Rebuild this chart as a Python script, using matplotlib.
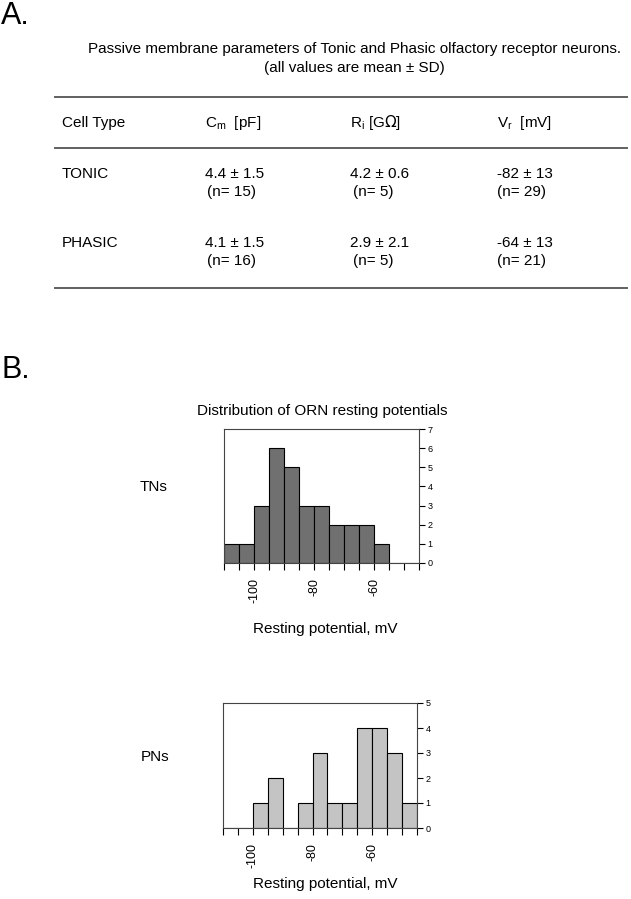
import numpy as np
import matplotlib.pyplot as plt

plt.rcParams['font.family'] = ['Liberation Sans', 'DejaVu Sans']

# Tabela A
cabecalho = ['Cell Type', 'C$_\\mathregular{m}$  [pF]', 'R$_\\mathregular{i}$ [G$\\Omega$]', 'V$_\\mathregular{r}$  [mV]']
tipos = ['TONIC', 'PHASIC']
cm_vals = ['4.4 ± 1.5', '4.1 ± 1.5']
cm_n = ['(n= 15)', '(n= 16)']
ri_vals = ['4.2 ± 0.6', '2.9 ± 2.1']
ri_n = ['(n= 5)', '(n= 5)']
vr_vals = ['-82 ± 13', '-64 ± 13']
vr_n = ['(n= 29)', '(n= 21)']

# Histogramas B (bins de 5 mV)
bordas = np.arange(-110, -44, 5)
contagem_tn = [1, 1, 3, 6, 5, 3, 3, 2, 2, 2, 1, 0, 0]
contagem_pn = [0, 0, 1, 2, 0, 1, 3, 1, 1, 4, 4, 3, 1]
rotulos_x = [-100, -80, -60]

W, H = 631, 899
fig = plt.figure(figsize=(W / 100, H / 100), dpi=100)


def px(x, y):
    return x / W, 1 - y / H


def texto(x, y, s, **kw):
    kw.setdefault('fontsize', 11)
    kw.setdefault('va', 'center')
    fig.text(*px(x, y), s, **kw)


def linha(y, x0=55, x1=627):
    fig.add_artist(plt.Line2D([x0 / W, x1 / W], [1 - y / H, 1 - y / H],
                              color='#606060', lw=1.4))


# Painel A
texto(1, 16, 'A.', fontsize=22)
texto(354, 49, 'Passive membrane parameters of Tonic and Phasic olfactory receptor neurons.', ha='center')
texto(354, 68, '(all values are mean ± SD)', ha='center')
linha(97)
linha(148)
linha(288)

col_x = [62, 205, 350, 497]
n_x = [207, 353, 497]
for x, s in zip(col_x, cabecalho):
    texto(x, 123, s)
for i, y in enumerate([174, 243]):
    texto(col_x[0], y, tipos[i])
    texto(col_x[1], y, cm_vals[i])
    texto(col_x[2], y, ri_vals[i])
    texto(col_x[3], y, vr_vals[i])
    texto(n_x[0], y + 18, cm_n[i])
    texto(n_x[1], y + 18, ri_n[i])
    texto(n_x[2], y + 18, vr_n[i])

# Painel B
texto(1, 370, 'B.', fontsize=22)
texto(322, 411, 'Distribution of ORN resting potentials', ha='center')


def histograma(caixa, contagem, cor, ymax):
    x0, x1, y0, y1 = caixa
    ax = fig.add_axes([x0 / W, 1 - y1 / H, (x1 - x0) / W, (y1 - y0) / H])
    ax.bar(bordas[:-1], contagem, width=5, align='edge', color=cor,
           edgecolor='black', linewidth=0.8)
    ax.set_xlim(-110, -45)
    ax.set_ylim(0, ymax)
    ax.set_xticks(bordas, minor=True)
    ax.set_xticks(rotulos_x)
    ax.set_xticklabels([str(v) for v in rotulos_x], rotation=90, fontsize=9)
    ax.tick_params(axis='x', which='both', length=5, width=0.8, direction='out', pad=6)
    ax.yaxis.tick_right()
    ax.set_yticks(range(ymax + 1))
    ax.tick_params(axis='y', length=4, width=0.8, labelsize=6.5, pad=2)
    for s in ax.spines.values():
        s.set_linewidth(0.8)
        s.set_color('#444444')
    return ax


histograma((224, 419, 429, 563), contagem_tn, '#707070', 7)
texto(140, 487, 'TNs')
texto(325, 629, 'Resting potential, mV', ha='center')

histograma((223, 417, 703, 828), contagem_pn, '#c4c4c4', 5)
texto(141, 757, 'PNs')
texto(325, 884, 'Resting potential, mV', ha='center')

plt.savefig('out.png', dpi=100)
